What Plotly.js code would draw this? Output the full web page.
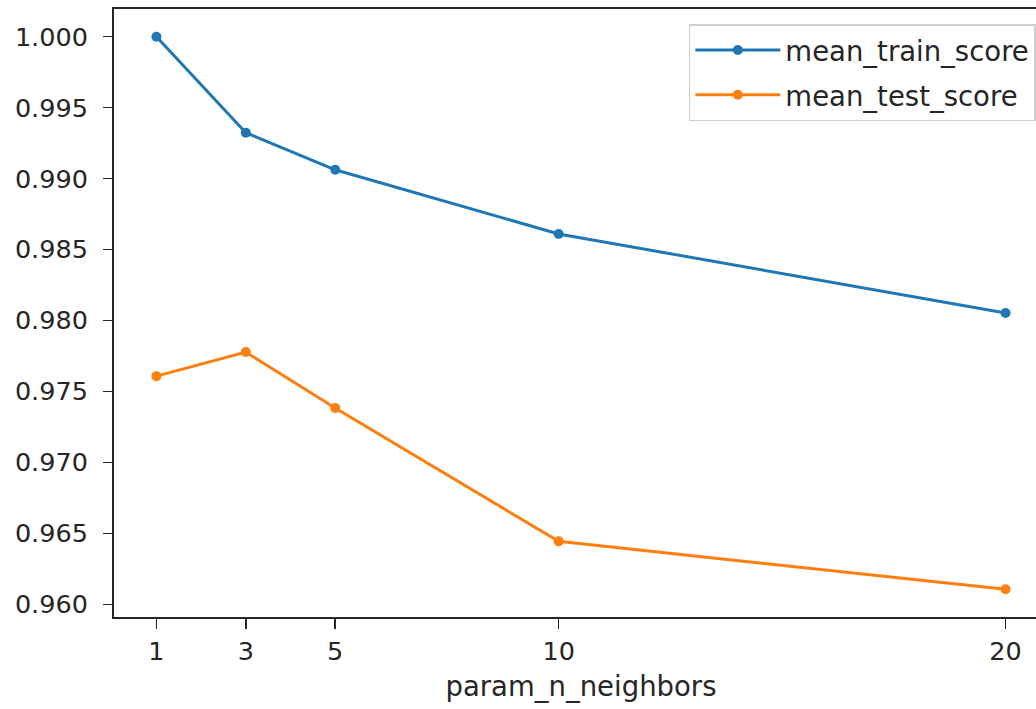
<!DOCTYPE html>
<html>
<head>
<meta charset="utf-8">
<script src="https://cdn.plot.ly/plotly-3.0.1.min.js"></script>
<style>html,body{margin:0;padding:0;overflow:hidden;background:#fff;}</style>
</head>
<body>
<div id="chart"></div>
<script>
const neighbors = [1, 3, 5, 10, 20];
const meanTrainScore = [1.0000, 0.99323, 0.99062, 0.98610, 0.98053];
const meanTestScore = [0.97608, 0.97778, 0.97383, 0.96444, 0.96106];
const yTicks = [0.960, 0.965, 0.970, 0.975, 0.980, 0.985, 0.990, 0.995, 1.000];

const tickFont = {family: 'DejaVu Sans, sans-serif', size: 25.5, color: '#262626'};
const textFont = {family: 'DejaVu Sans, sans-serif', size: 27.5, color: '#262626'};

const traces = [
  {x: neighbors, y: meanTrainScore, name: 'mean_train_score', mode: 'lines+markers',
   legendgroup: 'a',
   line: {color: '#1f77b4', width: 3}, marker: {color: '#1f77b4', size: 10}},
  {x: neighbors, y: meanTestScore, name: 'mean_test_score', mode: 'lines+markers',
   legendgroup: 'b',
   line: {color: '#ff7f0e', width: 3}, marker: {color: '#ff7f0e', size: 10}}
];

const layout = {
  width: 1060, height: 709,
  margin: {l: 114, r: 12, t: 9, b: 92},
  paper_bgcolor: '#fff', plot_bgcolor: '#fff',
  font: tickFont,
  showlegend: true,
  legend: {
    x: 0.987, y: 0.975, xanchor: 'right', yanchor: 'top',
    bgcolor: 'rgba(255,255,255,0.8)', bordercolor: '#d0d0d0', borderwidth: 1.5,
    font: textFont, traceorder: 'grouped', tracegroupgap: 6, itemwidth: 85
  },
  xaxis: {
    range: [0.05, 20.95], tickmode: 'array', tickvals: neighbors, ticktext: neighbors.map(String),
    showgrid: false, zeroline: false, showline: true, linecolor: '#262626', linewidth: 2, mirror: true,
    ticks: 'outside', ticklen: 10, tickwidth: 1.5, tickcolor: '#262626',
    tickfont: tickFont,
    title: {text: 'param_n_neighbors', font: textFont, standoff: 12}
  },
  yaxis: {
    range: [0.95911, 1.00195], tickmode: 'array', tickvals: yTicks, ticktext: yTicks.map(v => v.toFixed(3)),
    showgrid: false, zeroline: false, showline: true, linecolor: '#262626', linewidth: 2, mirror: true,
    ticks: 'outside', ticklen: 9, tickwidth: 1.5, tickcolor: '#262626',
    tickfont: tickFont, ticklabelstandoff: 10
  }
};

Plotly.newPlot('chart', traces, layout, {displayModeBar: false, staticPlot: true});
</script>
</body>
</html>
